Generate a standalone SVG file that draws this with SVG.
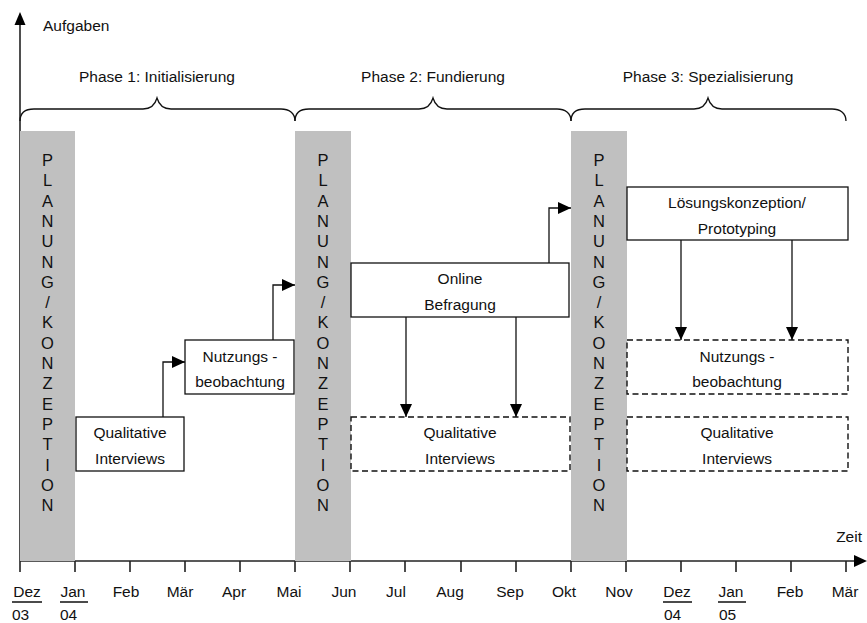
<svg xmlns="http://www.w3.org/2000/svg" width="867" height="623" viewBox="0 0 867 623">
<defs>
<style>
text{font-family:"Liberation Sans",Arial,sans-serif;font-size:15.5px;fill:#111}
.t{text-anchor:middle}
.bar{fill:#c0c0c0}
.box{fill:#fff;stroke:#111;stroke-width:1.3}
.dbox{fill:#fff;stroke:#111;stroke-width:1.4;stroke-dasharray:6,3.5}
.ln{fill:none;stroke:#111;stroke-width:1.3}
.ax{fill:none;stroke:#222;stroke-width:1.6}
.br{fill:none;stroke:#111;stroke-width:1.3}
.pl{font-size:16.5px;text-anchor:middle}
</style>
<marker id="ah" markerUnits="userSpaceOnUse" markerWidth="14" markerHeight="14" refX="13" refY="6" orient="auto">
<path d="M0,0 L13,6 L0,12 Z" fill="#000"/>
</marker>
</defs>

<g id="axes">
<path class="ax" d="M20,561 V24"/>
<path d="M14.5,25 L20,12 L25.5,25 Z" fill="#000"/>
<path class="ax" d="M20,561 H855"/>
<path d="M854,555 L867,561 L854,567 Z" fill="#000"/>
<path class="ax" d="M20,561V572M75,561V572M130,561V572M185,561V572M240,561V572M295,561V572M350,561V572M405,561V572M461,561V572M516,561V572M571,561V572M626,561V572M681,561V572M736,561V572M791,561V572M846,561V572"/>
<text x="43" y="31">Aufgaben</text>
<text x="862" y="542" text-anchor="end">Zeit</text>
</g>

<g id="months">
<text class="t" x="27" y="597">Dez</text>
<text class="t" x="73" y="597">Jan</text>
<text class="t" x="126" y="597">Feb</text>
<text class="t" x="180" y="597">Mär</text>
<text class="t" x="234" y="597">Apr</text>
<text class="t" x="289" y="597">Mai</text>
<text class="t" x="344" y="597">Jun</text>
<text class="t" x="396" y="597">Jul</text>
<text class="t" x="450" y="597">Aug</text>
<text class="t" x="510" y="597">Sep</text>
<text class="t" x="564" y="597">Okt</text>
<text class="t" x="619" y="597">Nov</text>
<text class="t" x="677" y="597">Dez</text>
<text class="t" x="731" y="597">Jan</text>
<text class="t" x="790" y="597">Feb</text>
<text class="t" x="845" y="597">Mär</text>
<path class="ln" d="M12,602H42M60,602H88M663,602H692M718,602H746"/>
<text x="12" y="620">03</text>
<text x="60" y="620">04</text>
<text x="664" y="620">04</text>
<text x="719" y="620">05</text>
</g>

<g id="phases">
<path class="br" d="M20,121 C20,113 24,109 34,109 L143,109 C151,109 155,105 157,98 C159,105 163,109 171,109 L281,109 C289,109 295,113 295,121"/>
<path class="br" d="M295,121 C295,113 299,109 309,109 L419,109 C427,109 431,105 433,98 C435,105 439,109 447,109 L557,109 C565,109 571,113 571,121"/>
<path class="br" d="M571,121 C571,113 575,109 585,109 L694,109 C702,109 706,105 708,98 C710,105 714,109 722,109 L832,109 C840,109 846,113 846,121"/>
<text class="t" x="157" y="82">Phase 1: Initialisierung</text>
<text class="t" x="433" y="82">Phase 2: Fundierung</text>
<text class="t" x="708" y="82">Phase 3: Spezialisierung</text>
</g>

<g id="bar1">
<rect class="bar" x="20" y="131" width="55" height="430"/>
<text class="pl" x="47.5"><tspan x="47.5" y="166">P</tspan><tspan x="47.5" y="186.3">L</tspan><tspan x="47.5" y="206.6">A</tspan><tspan x="47.5" y="226.9">N</tspan><tspan x="47.5" y="247.2">U</tspan><tspan x="47.5" y="267.5">N</tspan><tspan x="47.5" y="287.8">G</tspan><tspan x="47.5" y="308.1">/</tspan><tspan x="47.5" y="328.4">K</tspan><tspan x="47.5" y="348.7">O</tspan><tspan x="47.5" y="369">N</tspan><tspan x="47.5" y="389.3">Z</tspan><tspan x="47.5" y="409.6">E</tspan><tspan x="47.5" y="429.9">P</tspan><tspan x="47.5" y="450.2">T</tspan><tspan x="47.5" y="470.5">I</tspan><tspan x="47.5" y="490.8">O</tspan><tspan x="47.5" y="511.1">N</tspan></text>
</g>
<g id="bar2">
<rect class="bar" x="295" y="131" width="56" height="430"/>
<text class="pl" x="323"><tspan x="323" y="166">P</tspan><tspan x="323" y="186.3">L</tspan><tspan x="323" y="206.6">A</tspan><tspan x="323" y="226.9">N</tspan><tspan x="323" y="247.2">U</tspan><tspan x="323" y="267.5">N</tspan><tspan x="323" y="287.8">G</tspan><tspan x="323" y="308.1">/</tspan><tspan x="323" y="328.4">K</tspan><tspan x="323" y="348.7">O</tspan><tspan x="323" y="369">N</tspan><tspan x="323" y="389.3">Z</tspan><tspan x="323" y="409.6">E</tspan><tspan x="323" y="429.9">P</tspan><tspan x="323" y="450.2">T</tspan><tspan x="323" y="470.5">I</tspan><tspan x="323" y="490.8">O</tspan><tspan x="323" y="511.1">N</tspan></text>
</g>
<g id="bar3">
<rect class="bar" x="571" y="131" width="56" height="430"/>
<text class="pl" x="599"><tspan x="599" y="166">P</tspan><tspan x="599" y="186.3">L</tspan><tspan x="599" y="206.6">A</tspan><tspan x="599" y="226.9">N</tspan><tspan x="599" y="247.2">U</tspan><tspan x="599" y="267.5">N</tspan><tspan x="599" y="287.8">G</tspan><tspan x="599" y="308.1">/</tspan><tspan x="599" y="328.4">K</tspan><tspan x="599" y="348.7">O</tspan><tspan x="599" y="369">N</tspan><tspan x="599" y="389.3">Z</tspan><tspan x="599" y="409.6">E</tspan><tspan x="599" y="429.9">P</tspan><tspan x="599" y="450.2">T</tspan><tspan x="599" y="470.5">I</tspan><tspan x="599" y="490.8">O</tspan><tspan x="599" y="511.1">N</tspan></text>
</g>

<g id="qi1">
<rect class="box" x="76" y="417" width="108" height="54"/>
<text class="t" x="130" y="438">Qualitative</text>
<text class="t" x="130" y="464">Interviews</text>
</g>
<g id="nb1">
<rect class="box" x="185" y="340" width="109" height="54"/>
<text class="t" x="240" y="362">Nutzungs -</text>
<text class="t" x="240" y="387">beobachtung</text>
</g>
<g id="ob">
<rect class="box" x="351" y="263" width="218" height="54"/>
<text class="t" x="460" y="284">Online</text>
<text class="t" x="460" y="310">Befragung</text>
</g>
<g id="qi2">
<rect class="dbox" x="351" y="417" width="219" height="54"/>
<text class="t" x="460" y="438">Qualitative</text>
<text class="t" x="460" y="464">Interviews</text>
</g>
<g id="lk">
<rect class="box" x="627" y="187" width="221" height="53"/>
<text class="t" x="737" y="208">Lösungskonzeption/</text>
<text class="t" x="737" y="234">Prototyping</text>
</g>
<g id="nb2">
<rect class="dbox" x="627" y="340" width="221" height="54"/>
<text class="t" x="737" y="362">Nutzungs -</text>
<text class="t" x="737" y="387">beobachtung</text>
</g>
<g id="qi3">
<rect class="dbox" x="627" y="417" width="221" height="54"/>
<text class="t" x="737" y="438">Qualitative</text>
<text class="t" x="737" y="464">Interviews</text>
</g>

<g id="connectors">
<path class="ln" marker-end="url(#ah)" d="M163,417 V362 H185"/>
<path class="ln" marker-end="url(#ah)" d="M273,340 V285 H295"/>
<path class="ln" marker-end="url(#ah)" d="M549,263 V208 H571"/>
<path class="ln" marker-end="url(#ah)" d="M406,317 V417"/>
<path class="ln" marker-end="url(#ah)" d="M516,317 V417"/>
<path class="ln" marker-end="url(#ah)" d="M681,240 V340"/>
<path class="ln" marker-end="url(#ah)" d="M792,240 V340"/>
</g>
</svg>
